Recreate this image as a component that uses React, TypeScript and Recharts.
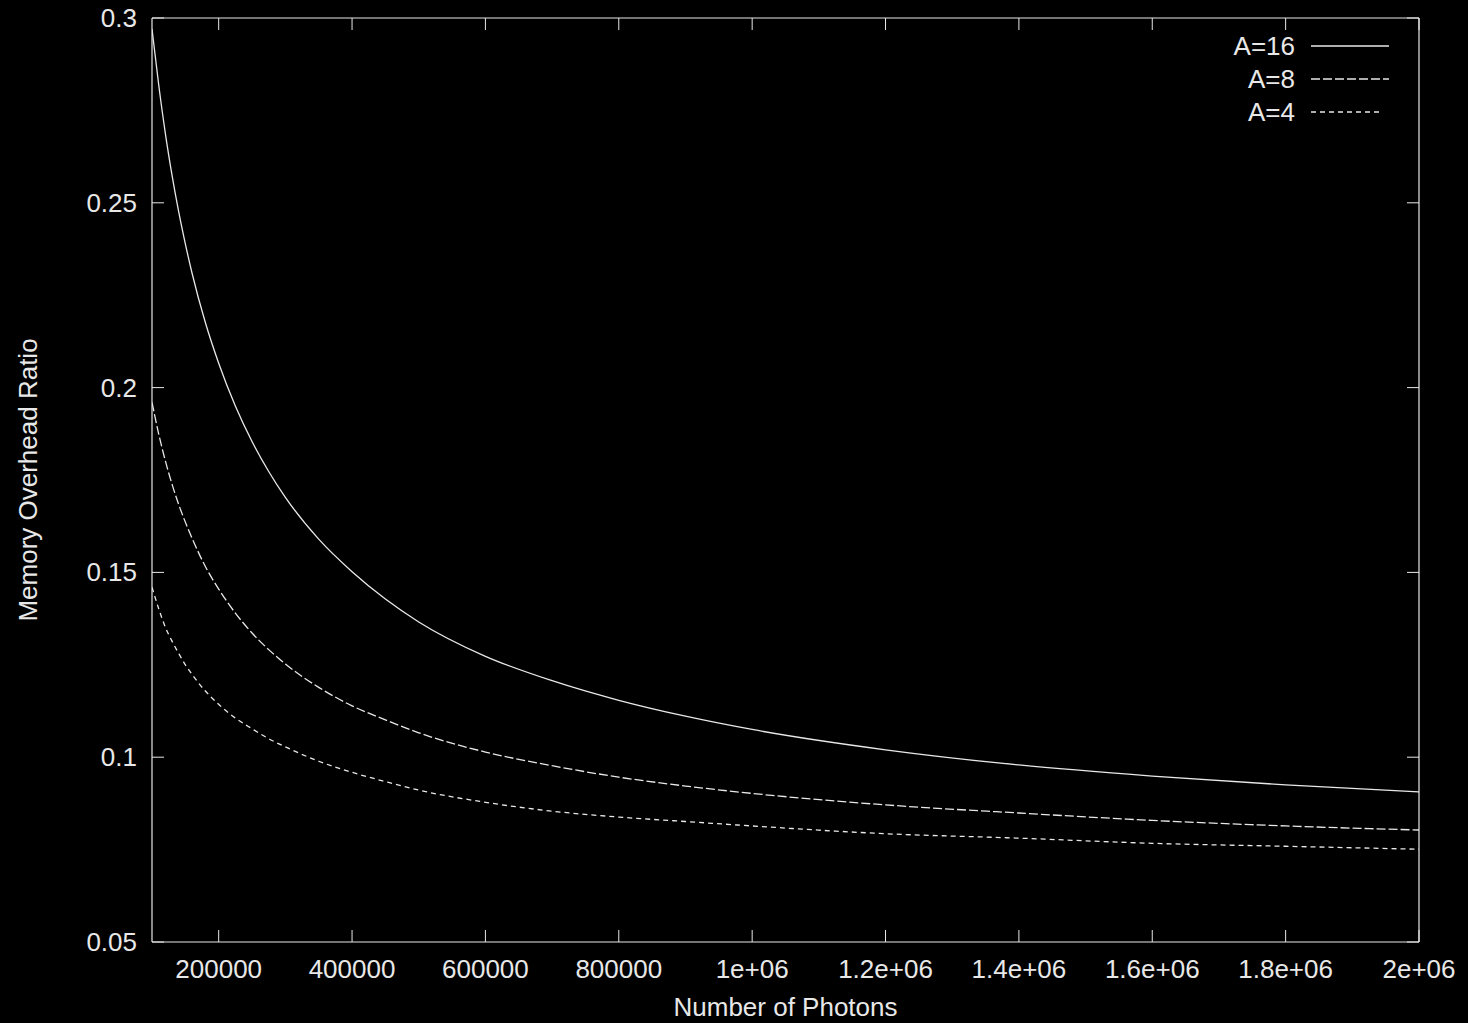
import React from 'react';
import { LineChart, Line, XAxis, YAxis, Legend } from 'recharts';

// photon counts sampled along the x axis
const photons = [
  100000, 110000, 120000, 130000, 140000, 150000, 160000, 180000, 200000, 225000,
  250000, 275000, 300000, 350000, 400000, 450000, 500000, 600000, 700000, 800000,
  900000, 1000000, 1200000, 1400000, 1600000, 1800000, 2000000,
];

const ratioA16 = [
  0.297, 0.282, 0.2688, 0.2575, 0.2476, 0.2389, 0.231, 0.2176, 0.2066, 0.195,
  0.1854, 0.1773, 0.1703, 0.159, 0.1502, 0.1428, 0.1366, 0.1273, 0.1207, 0.1154,
  0.1111, 0.1075, 0.102, 0.0979, 0.0949, 0.0925, 0.0906,
];

const ratioA8 = [
  0.196, 0.1875, 0.1802, 0.1739, 0.1684, 0.1636, 0.1593, 0.1516, 0.1455, 0.139,
  0.1336, 0.1291, 0.1252, 0.1189, 0.1139, 0.1101, 0.1066, 0.1014, 0.0977, 0.0946,
  0.0922, 0.0902, 0.0871, 0.0849, 0.0829, 0.0814, 0.0803,
];

const ratioA4 = [
  0.146, 0.1402, 0.1352, 0.1314, 0.1281, 0.125, 0.1224, 0.1179, 0.1143, 0.1106,
  0.1077, 0.105, 0.1028, 0.0989, 0.0959, 0.0934, 0.0911, 0.0878, 0.0854, 0.0838,
  0.0826, 0.0814, 0.0793, 0.0781, 0.0767, 0.0759, 0.0751,
];

const xTicks = [200000, 400000, 600000, 800000, 1000000, 1200000, 1400000, 1600000, 1800000, 2000000];
const xTickLabels = ['200000', '400000', '600000', '800000', '1e+06', '1.2e+06', '1.4e+06', '1.6e+06', '1.8e+06', '2e+06'];
const yTicks = [0.05, 0.1, 0.15, 0.2, 0.25, 0.3];
const yTickLabels = ['0.05', '0.1', '0.15', '0.2', '0.25', '0.3'];

const seriesKeys = ['a16', 'a8', 'a4'];
const seriesNames = ['A=16', 'A=8', 'A=4'];

const data = photons.map((x, i) => ({
  x,
  a16: ratioA16[i],
  a8: ratioA8[i],
  a4: ratioA4[i],
}));

const FG = '#e8e8e8';
const FONT = '"Liberation Sans", Arial, Helvetica, sans-serif';
const FS = 26;
const TICK_LEN = 12;

const dashes: Record<string, string | undefined> = {
  a16: undefined,
  a8: '9 3',
  a4: '5 4',
};
const legendLen: Record<string, number> = { a16: 78, a8: 78, a4: 72 };

const labelFor = (ticks: number[], labels: string[], v: number) => {
  const i = ticks.findIndex((t) => Math.abs(t - v) < 1e-9);
  return i >= 0 ? labels[i] : String(v);
};

const BottomTick = (props: any) => {
  const { x, y, payload } = props;
  return (
    <g>
      <line x1={x} y1={y} x2={x} y2={y - TICK_LEN} stroke={FG} strokeWidth={1} />
      <text x={x} y={y + 27} textAnchor="middle" dominantBaseline="central" fill={FG} fontSize={FS} fontFamily={FONT}>
        {labelFor(xTicks, xTickLabels, payload.value)}
      </text>
    </g>
  );
};

const TopTick = (props: any) => {
  const { x, y } = props;
  return <line x1={x} y1={y} x2={x} y2={y + TICK_LEN} stroke={FG} strokeWidth={1} />;
};

const LeftTick = (props: any) => {
  const { x, y, payload } = props;
  return (
    <g>
      <line x1={x} y1={y} x2={x + TICK_LEN} y2={y} stroke={FG} strokeWidth={1} />
      <text x={x - 15} y={y} textAnchor="end" dominantBaseline="central" fill={FG} fontSize={FS} fontFamily={FONT}>
        {labelFor(yTicks, yTickLabels, payload.value)}
      </text>
    </g>
  );
};

const RightTick = (props: any) => {
  const { x, y } = props;
  return <line x1={x} y1={y} x2={x - TICK_LEN} y2={y} stroke={FG} strokeWidth={1} />;
};

const YTitle = (props: any) => {
  const vb = props.viewBox || {};
  const cx = (vb.x ?? 0) + 28;
  const cy = (vb.y ?? 0) + (vb.height ?? 0) / 2;
  return (
    <text x={cx} y={cy} transform={`rotate(-90 ${cx} ${cy})`} textAnchor="middle" dominantBaseline="central" fill={FG} fontSize={FS} fontFamily={FONT}>
      Memory Overhead Ratio
    </text>
  );
};

const XTitle = (props: any) => {
  const vb = props.viewBox || {};
  const cx = (vb.x ?? 0) + (vb.width ?? 0) / 2;
  const cy = (vb.y ?? 0) + 65;
  return (
    <text x={cx} y={cy} textAnchor="middle" dominantBaseline="central" fill={FG} fontSize={FS} fontFamily={FONT}>
      Number of Photons
    </text>
  );
};

const KeyBox = (props: any) => {
  const items = (props.payload || [])
    .filter((it: any) => seriesNames.includes(it.value))
    .sort((a: any, b: any) => seriesNames.indexOf(a.value) - seriesNames.indexOf(b.value));
  return (
    <div style={{ fontFamily: FONT, fontSize: FS, color: FG }}>
      {items.map((it: any) => (
        <div key={it.value} style={{ display: 'flex', alignItems: 'center', height: 33 }}>
          <span style={{ width: 95, textAlign: 'right', marginRight: 16, lineHeight: '33px' }}>{it.value}</span>
          <svg width={80} height={10}>
            <line x1={0} y1={5} x2={legendLen[it.dataKey]} y2={5} stroke={FG} strokeWidth={1.3} strokeDasharray={dashes[it.dataKey]} />
          </svg>
        </div>
      ))}
    </div>
  );
};

export default function App() {
  return (
    <div style={{ position: 'fixed', left: 0, top: 0, width: 1468, height: 1023, background: '#000' }}>
      <LineChart width={1468} height={1023} data={data} margin={{ top: 17, right: 48, bottom: 0, left: 0 }}>
        <XAxis
          dataKey="x"
          type="number"
          domain={[100000, 2000000]}
          allowDataOverflow
          ticks={xTicks}
          interval={0}
          height={81}
          tickSize={0}
          tickMargin={0}
          tickLine={false}
          axisLine={{ stroke: FG, strokeWidth: 1.2 }}
          tick={<BottomTick />}
          label={<XTitle />}
        />
        <XAxis
          xAxisId="top"
          orientation="top"
          dataKey="x"
          type="number"
          domain={[100000, 2000000]}
          allowDataOverflow
          ticks={xTicks}
          interval={0}
          height={1}
          tickSize={0}
          tickMargin={0}
          tickLine={false}
          axisLine={{ stroke: FG, strokeWidth: 1.2 }}
          tick={<TopTick />}
        />
        <YAxis
          type="number"
          domain={[0.05, 0.3]}
          allowDataOverflow
          ticks={yTicks}
          interval={0}
          width={152}
          tickSize={0}
          tickMargin={0}
          tickLine={false}
          axisLine={{ stroke: FG, strokeWidth: 1.2 }}
          tick={<LeftTick />}
          label={<YTitle />}
        />
        <YAxis
          yAxisId="right"
          orientation="right"
          type="number"
          domain={[0.05, 0.3]}
          allowDataOverflow
          ticks={yTicks}
          interval={0}
          width={1}
          tickSize={0}
          tickMargin={0}
          tickLine={false}
          axisLine={{ stroke: FG, strokeWidth: 1.2 }}
          tick={<RightTick />}
        />
        <Legend
          layout="vertical"
          align="center"
          verticalAlign="middle"
          content={<KeyBox />}
          wrapperStyle={{ position: 'absolute', top: 29.5, left: 1200, width: 200 }}
        />
        <Line dataKey="a16" name={seriesNames[0]} type="monotone" stroke={FG} strokeWidth={1.3} dot={false} isAnimationActive={false} />
        <Line dataKey="a8" name={seriesNames[1]} type="monotone" stroke={FG} strokeWidth={1.3} strokeDasharray={dashes.a8} dot={false} isAnimationActive={false} />
        <Line dataKey="a4" name={seriesNames[2]} type="monotone" stroke={FG} strokeWidth={1.3} strokeDasharray={dashes.a4} dot={false} isAnimationActive={false} />
        {/* invisible copy that keeps the mirrored top/right axes alive */}
        <Line dataKey="a16" name="mirror" xAxisId="top" yAxisId="right" stroke="none" legendType="none" dot={false} activeDot={false} isAnimationActive={false} />
      </LineChart>
    </div>
  );
}
